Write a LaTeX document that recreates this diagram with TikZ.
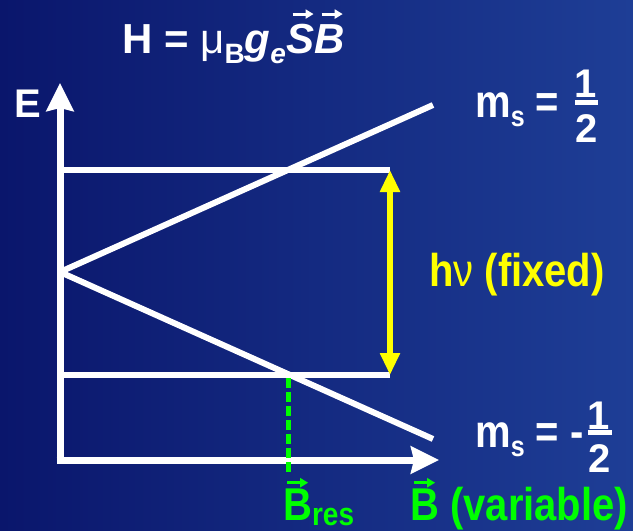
\documentclass[tikz,border=0pt]{standalone}
\usepackage{fontspec}
\setmainfont{Liberation Sans}
\usetikzlibrary{arrows.meta}
\definecolor{slidedark}{RGB}{10,22,108}
\definecolor{slidelight}{RGB}{30,62,150}
\definecolor{hvyellow}{RGB}{255,255,0}
\definecolor{resgreen}{RGB}{0,255,0}

% arrow accent over a letter, taller letters
\newcommand{\vecarr}[2][0pt]{\ooalign{#2\cr\hidewidth\hspace*{#1}\raisebox{0.82em}{\tikz[x=1pt,y=1pt]\draw[line width=3pt,-{Triangle[length=8pt,width=9pt]}] (0,0) -- (21,0);}\hidewidth\cr}}
\newcommand{\tall}[1]{\scalebox{1}[1.15]{#1}}

\begin{document}
\begin{tikzpicture}[x=1pt,y=-1pt,
  slidetext/.style={anchor=base west, inner sep=0pt, text=white, font=\fontsize{40}{46}\selectfont\bfseries},
  fracdigit/.style={slidetext, anchor=base},
  axisline/.style={white, line width=7pt, -{Stealth[length=28pt, width=27pt, inset=3pt]}},
  levelline/.style={white, line width=6pt},
  hvarrow/.style={hvyellow, line width=5.3pt, {Triangle[length=22pt, width=19pt]}-{Triangle[length=22pt, width=19pt]}}]
% background
\shade[left color=slidedark, right color=slidelight] (0,0) rectangle (633,531);
\useasboundingbox (0,0) rectangle (633,531);

% points of the diagram
\coordinate (O) at (60,460);
\coordinate (Etip) at (60,83);
\coordinate (Btip) at (439,460);
\coordinate (zero) at (60,272);
\coordinate (upEnd) at (433,105);
\coordinate (loEnd) at (433,439);
\coordinate (hiL) at (60,170);
\coordinate (hiR) at (390,170);
\coordinate (loL) at (60,375);
\coordinate (loR) at (390,375);
\coordinate (res) at (288,378);
\coordinate (resB) at (288,473);

% energy levels and axes
\draw[levelline] (hiL) -- (hiR);
\draw[levelline] (loL) -- (loR);
\draw[levelline] (zero) -- (upEnd);
\draw[levelline] (zero) -- (loEnd);
\draw[axisline] ([yshift=3.5pt]O) -- (Etip);
\draw[axisline] ([xshift=-3.5pt]O) -- (Btip);

% resonance
\draw[hvarrow] (hiR) -- (loR);
\draw[resgreen, line width=5pt, dash pattern=on 10pt off 4pt] (res) -- (resB);

% labels
\node[slidetext, font=\fontsize{42}{46}\selectfont\bfseries] (title) at (122,53)
  {H = {\mdseries μ}\raisebox{-10pt}{\fontsize{28}{28}\selectfont B}\textit{g}\raisebox{-10pt}{\fontsize{28}{28}\selectfont\textit{e}}\textit{\vecarr[6pt]{S}\vecarr[6pt]{B}}};
\node[slidetext] (E) at (14,117) {E};

% m_s = 1/2
\node[slidetext] (msup) at (475,117)
  {\tall{m\raisebox{-8pt}{\fontsize{25}{25}\selectfont s} =}};
\node[fracdigit] (upnum) at (586,97) {1};
\node[fracdigit] (upden) at (587,142) {2};
\draw[white, line width=5pt] (575,102.5) -- (598,102.5);

% m_s = -1/2
\node[slidetext] (msdown) at (475,447)
  {\tall{m\raisebox{-8pt}{\fontsize{25}{25}\selectfont s} = -}};
\node[fracdigit] (lonum) at (599,429) {1};
\node[fracdigit] (loden) at (600,472) {2};
\draw[white, line width=4.5pt] (588,432.5) -- (612,432.5);

\node[slidetext, text=hvyellow] (hv) at (429,286) {\tall{h{\mdseries ν} (fixed)}};
\node[slidetext, text=resgreen] (Bres) at (283,520)
  {\vecarr{\tall{B}}\tall{\raisebox{-5pt}{\fontsize{28}{28}\selectfont res}}};
\node[slidetext, text=resgreen] (Bvar) at (410,520) {\vecarr{\tall{B}}\tall{ (variable)}};
\end{tikzpicture}
\end{document}
